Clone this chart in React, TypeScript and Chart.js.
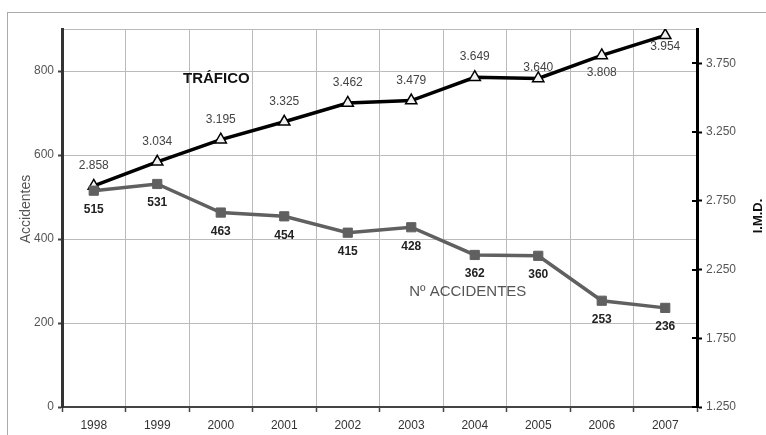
import { useEffect, useRef } from 'react';
import { Chart, registerables } from 'chart.js';

Chart.register(...registerables);

const years = ['1998', '1999', '2000', '2001', '2002', '2003', '2004', '2005', '2006', '2007'];
const accidents = [515, 531, 463, 454, 415, 428, 362, 360, 253, 236];
const traffic = [2858, 3034, 3195, 3325, 3462, 3479, 3649, 3640, 3808, 3954];
const leftTicks = [0, 200, 400, 600, 800, 900];
const rightTicks = [1250, 1750, 2250, 2750, 3250, 3750];
// vertical offset of each traffic label from its point (negative = above)
const trafficLabelDy = [-20, -20, -20, -20, -20, -20, -21, -11, 17, 11];

const FONT = '"Liberation Sans", Arial, Helvetica, sans-serif';

function fmt(v: number): string {
  const s = String(Math.round(v));
  return s.length > 3 ? s.slice(0, -3) + '.' + s.slice(-3) : s;
}

const framePlugin = {
  id: 'frame',
  beforeDraw(chart: any) {
    const ctx = chart.ctx;
    ctx.save();
    ctx.fillStyle = '#fff';
    ctx.fillRect(0, 0, chart.width, chart.height);
    ctx.strokeStyle = '#aaa';
    ctx.lineWidth = 1;
    ctx.strokeRect(7.5, 12.5, 800, 440);
    ctx.restore();
  },
};

const labelsPlugin = {
  id: 'labels',
  afterDraw(chart: any) {
    const ctx = chart.ctx;
    const xs = chart.scales.x;
    const ys = chart.scales.y;
    const y1 = chart.scales.y1;
    const area = chart.chartArea;
    ctx.save();
    // inner half of right-axis ticks
    ctx.strokeStyle = '#000';
    ctx.lineWidth = 2;
    rightTicks.forEach((v) => {
      const py = Math.round(y1.getPixelForValue(v));
      ctx.beginPath();
      ctx.moveTo(area.right - 5, py);
      ctx.lineTo(area.right, py);
      ctx.stroke();
    });

    ctx.textAlign = 'center';
    ctx.textBaseline = 'middle';
    const metaA = chart.getDatasetMeta(0);
    ctx.font = 'bold 12px ' + FONT;
    ctx.fillStyle = '#222';
    metaA.data.forEach((pt: any, i: number) => {
      ctx.fillText(String(accidents[i]), pt.x, pt.y + 19);
    });
    const metaT = chart.getDatasetMeta(1);
    ctx.font = '12px ' + FONT;
    ctx.fillStyle = '#444';
    metaT.data.forEach((pt: any, i: number) => {
      ctx.fillText(fmt(traffic[i]), pt.x, pt.y + trafficLabelDy[i]);
    });

    // series captions
    ctx.font = 'bold 15px ' + FONT;
    ctx.fillStyle = '#111';
    ctx.fillText('TRÁFICO', xs.getPixelForValue(1.93), ys.getPixelForValue(781));
    ctx.font = '15px ' + FONT;
    ctx.fillStyle = '#555';
    ctx.fillText('Nº ACCIDENTES', xs.getPixelForValue(5.89), ys.getPixelForValue(274));

    // axis titles (both read bottom-to-top)
    ctx.save();
    ctx.translate(26, 209);
    ctx.rotate(-Math.PI / 2);
    ctx.font = '14px ' + FONT;
    ctx.fillStyle = '#555';
    ctx.fillText('Accidentes', 0, 0);
    ctx.restore();
    ctx.save();
    ctx.translate(758, 216);
    ctx.rotate(-Math.PI / 2);
    ctx.font = 'bold 13px ' + FONT;
    ctx.fillStyle = '#111';
    ctx.fillText('I.M.D.', 0, 0);
    ctx.restore();
    ctx.restore();
  },
};

export default function App() {
  const ref = useRef<HTMLCanvasElement | null>(null);
  useEffect(() => {
    if (!ref.current) return;
    const chart = new Chart(ref.current, {
      type: 'line',
      data: {
        labels: years,
        datasets: [
          {
            label: 'Nº ACCIDENTES',
            data: accidents,
            yAxisID: 'y',
            borderColor: '#606060',
            backgroundColor: '#606060',
            borderWidth: 3.5,
            pointStyle: 'rect',
            pointRadius: 6.5,
            pointBackgroundColor: '#606060',
            pointBorderColor: '#606060',
            pointBorderWidth: 1,
            tension: 0,
          },
          {
            label: 'TRÁFICO',
            data: traffic,
            yAxisID: 'y1',
            borderColor: '#000',
            backgroundColor: '#000',
            borderWidth: 3.5,
            pointStyle: 'triangle',
            pointRadius: 6.5,
            pointBackgroundColor: '#f2f2f2',
            pointBorderColor: '#000',
            pointBorderWidth: 1.5,
            tension: 0,
          },
        ],
      },
      options: {
        responsive: false,
        animation: false,
        layout: { padding: { top: 29, left: 0, right: 0, bottom: 0 } },
        plugins: { legend: { display: false }, tooltip: { enabled: false } },
        scales: {
          x: {
            offset: true,
            grid: { offset: true, color: '#bbb', lineWidth: 1, tickLength: 5, tickColor: '#444', tickWidth: 1.5 },
            border: { color: '#444', width: 2 },
            ticks: { color: '#333', font: { family: FONT, size: 12 }, padding: 6, maxRotation: 0 },
            afterFit: (s: any) => { s.height = 28; },
          },
          y: {
            position: 'left',
            min: 0,
            max: 900,
            afterBuildTicks: (s: any) => { s.ticks = leftTicks.map((v) => ({ value: v })); },
            afterFit: (s: any) => { s.width = 62; },
            ticks: {
              callback: (v: any) => (v === 900 ? '' : String(v)),
              color: '#555',
              font: { family: FONT, size: 12 },
              padding: 4,
            },
            grid: {
              color: '#bbb',
              lineWidth: 1,
              tickLength: 4,
              tickWidth: 2,
              tickColor: (c: any) => (c.tick && c.tick.value === 900 ? 'rgba(0,0,0,0)' : '#444'),
            },
            border: { color: '#333', width: 3 },
          },
          y1: {
            position: 'right',
            min: 1250,
            max: 4000,
            afterBuildTicks: (s: any) => { s.ticks = rightTicks.map((v) => ({ value: v })); },
            afterFit: (s: any) => { s.width = 69; },
            ticks: {
              callback: (v: any) => fmt(Number(v)),
              color: '#555',
              font: { family: FONT, size: 12 },
              padding: 4,
            },
            grid: { drawOnChartArea: false, tickLength: 5, tickColor: '#000', tickWidth: 2 },
            border: { color: '#000', width: 3 },
          },
        },
      },
      plugins: [framePlugin, labelsPlugin],
    });
    return () => chart.destroy();
  }, []);
  return (
    <canvas
      ref={ref}
      width={766}
      height={435}
      style={{ position: 'absolute', left: 0, top: 0, display: 'block' }}
    />
  );
}
